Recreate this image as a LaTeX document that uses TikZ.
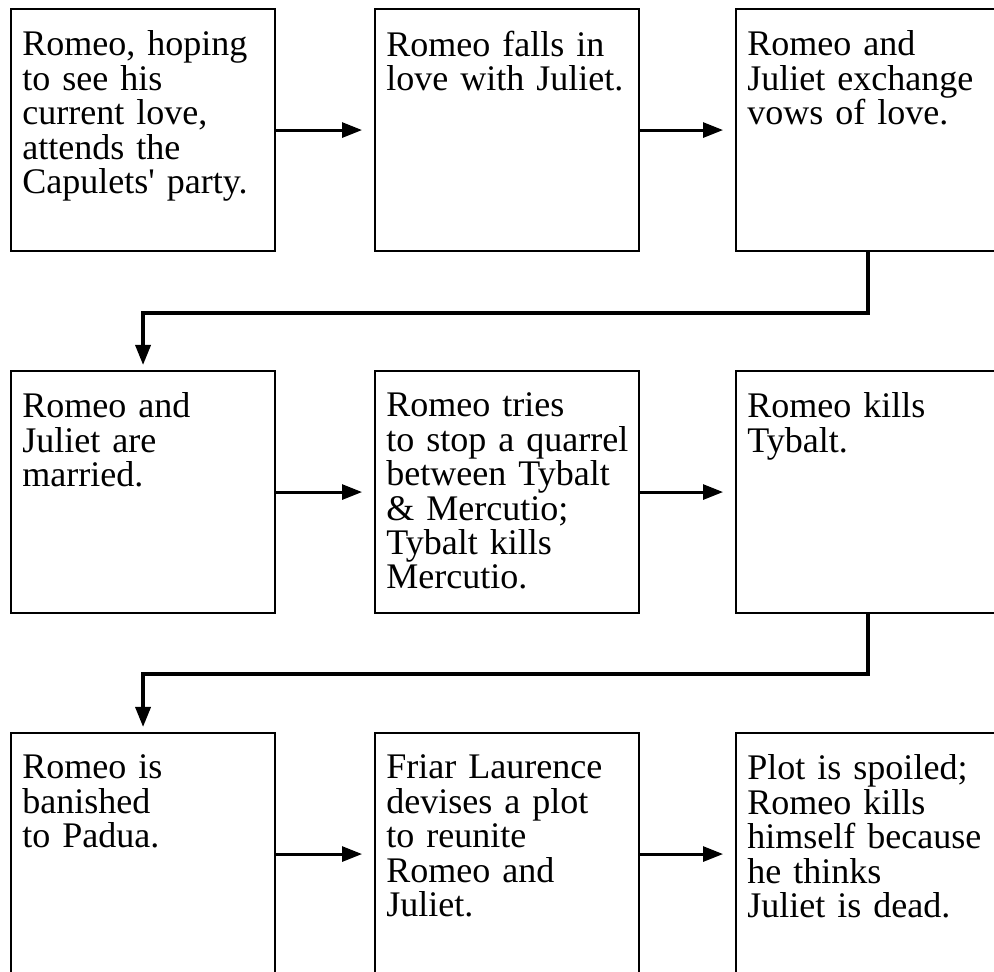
\documentclass[tikz,border=0pt]{standalone}
\usepackage{fontspec}
\setmainfont{Liberation Serif}
\usetikzlibrary{arrows.meta,positioning}

\begin{document}
\begin{tikzpicture}[
    box/.style={draw, line width=1.2pt, minimum width=5.28cm, minimum height=4.84cm,
                inner sep=0pt, anchor=north west},
    boxtext/.style={anchor=north west, inner sep=0pt, align=left, text width=5cm,
                    font=\fontsize{20.5}{19.6}\selectfont},
    arrow/.style={-{Triangle[length=4mm, width=3mm]}, line width=1.7pt,
                  shorten >=2.4mm},
    bendarrow/.style={arrow, line width=2pt, shorten >=1mm}
]
\clip (0,0) rectangle (19.88,-19.44);

\node[box] (party) at (0.2,-0.16) {};
\node[box] (falls) at (7.48,-0.16) {};
\node[box] (vows) at (14.7,-0.16) {};
\node[box] (married) at (0.2,-7.4) {};
\node[box] (quarrel) at (7.48,-7.4) {};
\node[box] (kills) at (14.7,-7.4) {};
\node[box] (banished) at (0.2,-14.64) {};
\node[box] (plot) at (7.48,-14.64) {};
\node[box] (spoiled) at (14.7,-14.64) {};

\node[boxtext] (partytext) at ([xshift=2.4mm, yshift=-4.5mm]party.north west)
    {Romeo, hoping\\to see his\\current love,\\attends the\\Capulets\textquotesingle{} party.};
\node[boxtext] (fallstext) at ([xshift=2.4mm, yshift=-4.5mm]falls.north west)
    {Romeo falls in\\love with Juliet.};
\node[boxtext] (vowstext) at ([xshift=2.4mm, yshift=-4.5mm]vows.north west)
    {Romeo and\\Juliet exchange\\vows of love.};
\node[boxtext] (marriedtext) at ([xshift=2.4mm, yshift=-4.5mm]married.north west)
    {Romeo and\\Juliet are\\married.};
\node[boxtext] (quarreltext) at ([xshift=2.4mm, yshift=-4.5mm]quarrel.north west)
    {Romeo tries\\to stop a quarrel\\between Tybalt\\\& Mercutio;\\Tybalt kills\\Mercutio.};
\node[boxtext] (killstext) at ([xshift=2.4mm, yshift=-4.5mm]kills.north west)
    {Romeo kills\\Tybalt.};
\node[boxtext] (banishedtext) at ([xshift=2.4mm, yshift=-4.5mm]banished.north west)
    {Romeo is\\banished\\to Padua.};
\node[boxtext] (plottext) at ([xshift=2.4mm, yshift=-4.5mm]plot.north west)
    {Friar Laurence\\devises a plot\\to reunite\\Romeo and\\Juliet.};
\node[boxtext] (spoiledtext) at ([xshift=2.4mm, yshift=-4.5mm]spoiled.north west)
    {Plot is spoiled;\\Romeo kills\\himself because\\he thinks\\Juliet is dead.};

\draw[arrow] (party.east) -- (falls.west);
\draw[arrow] (falls.east) -- (vows.west);
\draw[bendarrow] (vows.south) -- ++(0,-1.22) -| (married.north);
\draw[arrow] (married.east) -- (quarrel.west);
\draw[arrow] (quarrel.east) -- (kills.west);
\draw[bendarrow] (kills.south) -- ++(0,-1.2) -| (banished.north);
\draw[arrow] (banished.east) -- (plot.west);
\draw[arrow] (plot.east) -- (spoiled.west);
\end{tikzpicture}
\end{document}
